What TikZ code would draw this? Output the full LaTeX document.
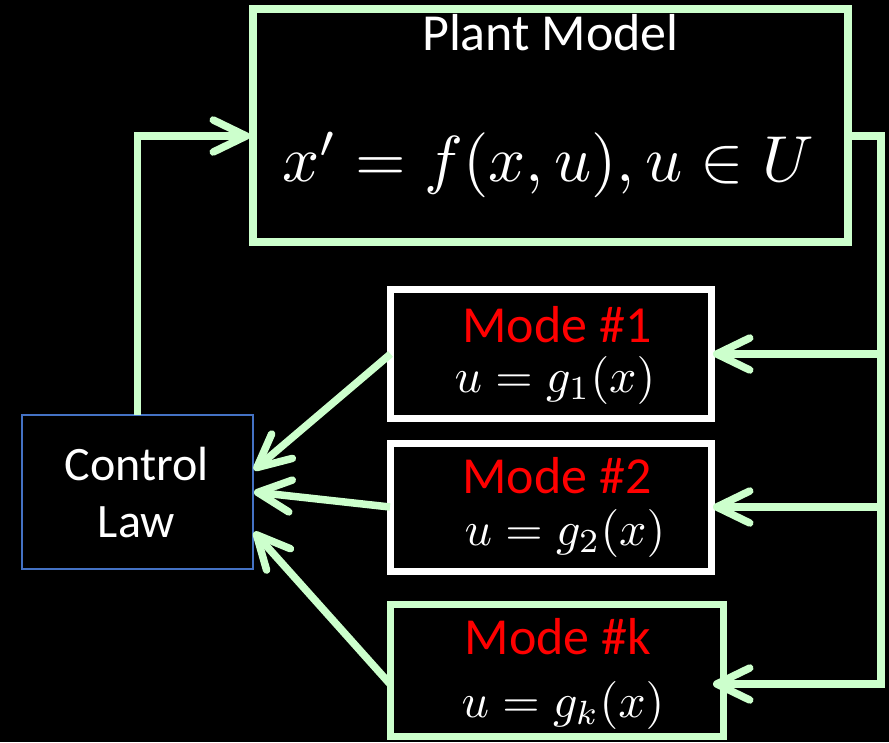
\documentclass[tikz,border=0pt]{standalone}
\usepackage{fontspec}
\newfontfamily\carl{Carlito}
\usetikzlibrary{arrows.meta,calc}
\definecolor{lgreen}{RGB}{204,255,204}
\definecolor{mred}{RGB}{255,0,0}
\definecolor{oblue}{RGB}{68,114,196}
\tikzset{
  conn/.style={draw=lgreen,line width=7.5pt,-{Straight Barb[length=33pt,width=32pt,round]}},
  box/.style={rectangle,inner sep=0pt,outer sep=0pt},
  lbl/.style={anchor=base,inner sep=0pt,text=white,font=\carl\fontsize{52}{60}\selectfont},
  modelbl/.style={lbl,text=mred},
  mth/.style={anchor=base,inner sep=0pt,text=white}
}
\begin{document}
\begin{tikzpicture}[x=1pt,y=-1pt]
\fill[black] (0,0) rectangle (889,742);
\useasboundingbox (0,0) rectangle (889,742);
% boxes
\node[box,draw=lgreen,line width=8pt,minimum width=595pt,minimum height=233pt] (plant) at (550.5,125.5) {};
\node[box,draw=white,line width=7pt,minimum width=320.5pt,minimum height=129pt] (m1) at (550.75,354) {};
\node[box,draw=white,line width=7pt,minimum width=321pt,minimum height=128pt] (m2) at (550.5,507) {};
\node[box,draw=lgreen,line width=7pt,minimum width=333pt,minimum height=132pt] (mk) at (556.5,670) {};
\node[box,draw=oblue,line width=1.5pt,minimum width=231pt,minimum height=154pt] (ctrl) at (137.5,492) {};
% texts
\node[lbl] (pt) at (550.5,50) {Plant Model};
\node[mth] (pm) at (548,181) {\scalebox{6.5}{$x' = f(x,u), u \in U$}};
\node[modelbl] (t1) at (557,342) {Mode \#1};
\node[mth] (e1) at (555,392) {\scalebox{4.8}{$u = g_1(x)$}};
\node[modelbl] (t2) at (557,493) {Mode \#2};
\node[mth] (e2) at (565,545) {\scalebox{4.8}{$u = g_2(x)$}};
\node[modelbl] (tk) at (558,654) {Mode \#k};
\node[mth] (ek) at (563,717) {\scalebox{4.8}{$u = g_k(x)$}};
\node[lbl,font=\carl\fontsize{48}{57}\selectfont] (cl1) at (136.5,480) {Control};
\node[lbl,font=\carl\fontsize{48}{57}\selectfont] (cl2) at (136.5,537) {Law};
% coordinates
\coordinate (pin) at (250,136);
\coordinate (pout) at (848,136);
\coordinate (j1) at (881,354);
\coordinate (j2) at (881,507);
\coordinate (j3) at (881,684);
\coordinate (r1) at (713,354);
\coordinate (r2) at (713,507);
\coordinate (r3) at (713,684);
\coordinate (mkl) at (390,684);
\coordinate (c1) at (254,470);
\coordinate (c2) at (254,492);
\coordinate (c3) at (254,532);
% connectors
\draw[conn] (ctrl.north) |- (pin);
\draw[conn] (pout) -| (j3) -- (r3);
\draw[conn] (j1) -- (r1);
\draw[conn] (j2) -- (r2);
\draw[conn] (m1.west) -- (c1);
\draw[conn] (m2.west) -- (c2);
\draw[conn] (mkl) -- (c3);
\end{tikzpicture}
\end{document}
